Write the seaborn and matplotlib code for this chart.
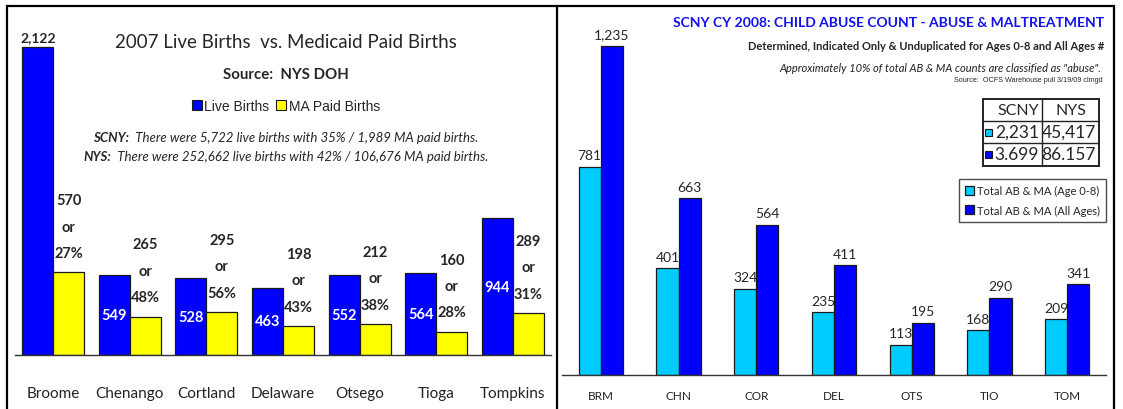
import matplotlib
matplotlib.use("Agg")
import matplotlib.pyplot as plt
from matplotlib.patches import Rectangle
from matplotlib.lines import Line2D
import numpy as np
import pandas as pd
import seaborn as sns

# ------------- data -------------
counties = ["Broome", "Chenango", "Cortland", "Delaware", "Otsego", "Tioga", "Tompkins"]
live_births = [2122, 549, 528, 463, 552, 564, 944]
ma_paid_births = [570, 265, 295, 198, 212, 160, 289]
ma_paid_pct = [27, 48, 56, 43, 38, 28, 31]

county_codes = ["BRM", "CHN", "COR", "DEL", "OTS", "TIO", "TOM"]
abuse_age_0_8 = [781, 401, 324, 235, 113, 168, 209]
abuse_all_ages = [1235, 663, 564, 411, 195, 290, 341]

table_header = ["SCNY", "NYS"]
table_rows = [["2,231", "45,417"], ["3.699", "86.157"]]

# ------------- style -------------
sns.set_style("white")
plt.rcParams["font.family"] = ["Lato", "DejaVu Sans"]
ARIAL = ["Liberation Sans", "DejaVu Sans"]

BLUE = "#0000FF"
YELLOW = "#FFFF00"
CYAN = "#00CCFF"
EDGE = "#1a1a1a"

W, H = 1123, 410
fig = plt.figure(figsize=(W / 100, H / 100), dpi=100)


def fx(px):
    return px / W


def fy(py):
    return 1 - py / H


# ------------- left chart -------------
births = pd.DataFrame({
    "county": counties * 2,
    "count": live_births + ma_paid_births,
    "series": ["Live Births"] * 7 + ["MA Paid Births"] * 7,
})
ax1 = fig.add_axes([fx(15), fy(356), 536 / W, (356 - 8) / H])
sns.barplot(data=births, x="county", y="count", hue="series",
            palette=[BLUE, YELLOW], saturation=1, width=0.81, gap=0,
            edgecolor=EDGE, linewidth=0.9, ax=ax1, legend=False)
ax1.set_ylim(0, 2400)

for i, (patch, n) in enumerate(zip(ax1.containers[0].patches, live_births)):
    cx = patch.get_x() + patch.get_width() / 2
    if i == 0:
        ax1.annotate(f"{n:,}", (cx, n), xytext=(0, 3), textcoords="offset points",
                     ha="center", va="bottom", fontsize=10, weight="bold")
    else:
        ax1.text(cx, n / 2, f"{n:,}", ha="center", va="center",
                 fontsize=10.5, weight="bold", color="white")

for patch, n, pct in zip(ax1.containers[1].patches, ma_paid_births, ma_paid_pct):
    cx = patch.get_x() + patch.get_width() / 2
    ax1.annotate(f"{n}\nor\n{pct}%", (cx, n), xytext=(0, 9), textcoords="offset points",
                 ha="center", va="bottom", fontsize=10.5, weight="bold", linespacing=2.12)

# ------------- right chart -------------
abuse = pd.DataFrame({
    "code": county_codes * 2,
    "count": abuse_age_0_8 + abuse_all_ages,
    "series": ["Total AB & MA (Age 0-8)"] * 7 + ["Total AB & MA (All Ages)"] * 7,
})
ax2 = fig.add_axes([fx(562), fy(376), 544 / W, (376 - 8) / H])
sns.barplot(data=abuse, x="code", y="count", hue="series",
            palette=[CYAN, BLUE], saturation=1, width=0.57, gap=0,
            edgecolor=EDGE, linewidth=0.9, ax=ax2)
ax2.set_ylim(0, 1380)
for cont in ax2.containers:
    ax2.bar_label(cont, labels=[f"{int(v):,}" for v in cont.datavalues],
                  padding=4, fontsize=10)

# ------------- axes cosmetics -------------
for ax, size, pad in [(ax1, 11, 22), (ax2, 8.5, 11)]:
    for s in ["top", "left", "right"]:
        ax.spines[s].set_visible(False)
    ax.spines["bottom"].set_linewidth(1)
    ax.spines["bottom"].set_color("#333333")
    ax.set_yticks([])
    ax.set_xlabel("")
    ax.set_ylabel("")
    ax.set_xticks(np.arange(-0.5, 7, 1), minor=True)
    ax.tick_params(axis="x", which="minor", length=6, width=1, color="#333333", direction="out")
    ax.tick_params(axis="x", which="major", length=0, labelsize=size, pad=pad, labelcolor="#222222")
    ax.set_facecolor("none")

# ------------- left panel texts -------------
cx_left = fx(286)
fig.text(cx_left, fy(42), "2007 Live Births  vs. Medicaid Paid Births",
         ha="center", va="center", fontsize=13.5)
fig.text(cx_left, fy(75), "Source:  NYS DOH", ha="center", va="center",
         fontsize=10.8, weight="bold")

handles = [Rectangle((0, 0), 1, 1, facecolor=BLUE, edgecolor=EDGE, linewidth=0.8),
           Rectangle((0, 0), 1, 1, facecolor=YELLOW, edgecolor=EDGE, linewidth=0.8)]
fig.legend(handles, ["Live Births", "MA Paid Births"], loc="center",
           bbox_to_anchor=(cx_left, fy(107)), ncol=2, frameon=False,
           prop={"family": ARIAL, "size": 10},
           handlelength=0.7, handleheight=0.7, handletextpad=0.2, columnspacing=0.5)

renderer = fig.canvas.get_renderer()
for prefix, rest, ypx in [("SCNY:", "  There were 5,722 live births with 35% / 1,989 MA paid births.", 138),
                          ("NYS:", "  There were 252,662 live births with 42% / 106,676 MA paid births.", 157)]:
    t1 = fig.text(0, fy(ypx), prefix, ha="left", va="center", fontsize=9.5,
                  style="italic", weight="bold")
    t2 = fig.text(0, fy(ypx), rest, ha="left", va="center", fontsize=9.5, style="italic")
    w1 = t1.get_window_extent(renderer).width
    w2 = t2.get_window_extent(renderer).width
    x0 = 286 - (w1 + w2) / 2
    t1.set_x(fx(x0))
    t2.set_x(fx(x0 + w1))

# ------------- right panel texts -------------
fig.text(fx(1104), fy(23), "SCNY CY 2008: CHILD ABUSE COUNT - ABUSE & MALTREATMENT",
         ha="right", va="center", fontsize=10, weight="bold", color="#1010F0")
fig.text(fx(1104), fy(47), "Determined, Indicated Only & Unduplicated for Ages 0-8 and All Ages #",
         ha="right", va="center", fontsize=8, weight="bold")
fig.text(fx(1101), fy(68), 'Approximately 10% of total AB & MA counts are classified as "abuse".',
         ha="right", va="center", fontsize=8, style="italic", color="#222222")
fig.text(fx(1103), fy(81), "Source:  OCFS Warehouse pull 3/19/09 clmgd",
         ha="right", va="center", fontsize=5.2, family=ARIAL)

# small summary table
tx0, tx1, txm = 983, 1099, 1042
ty = [100, 122, 144, 167]
fig.add_artist(Rectangle((fx(tx0), fy(ty[-1])), (tx1 - tx0) / W, (ty[-1] - ty[0]) / H,
                         transform=fig.transFigure, fill=False, edgecolor="#222222", linewidth=1.4))
for yl in ty[1:-1]:
    fig.add_artist(Line2D([fx(tx0), fx(tx1)], [fy(yl), fy(yl)], transform=fig.transFigure,
                          color="#222222", linewidth=1))
fig.add_artist(Line2D([fx(txm), fx(txm)], [fy(ty[0]), fy(ty[-1])], transform=fig.transFigure,
                      color="#222222", linewidth=1))
fig.text(fx(txm - 3), fy((ty[0] + ty[1]) / 2), table_header[0], ha="right", va="center", fontsize=11.5)
fig.text(fx((txm + tx1) / 2), fy((ty[0] + ty[1]) / 2), table_header[1], ha="center", va="center", fontsize=11.5)
for r, (row, col) in enumerate(zip(table_rows, [CYAN, BLUE])):
    ymid = (ty[r + 1] + ty[r + 2]) / 2
    fig.add_artist(Rectangle((fx(985), fy(ymid + 3.5)), 7 / W, 7 / H, transform=fig.transFigure,
                             facecolor=col, edgecolor=EDGE, linewidth=0.8))
    fig.text(fx(txm - 3), fy(ymid), row[0], ha="right", va="center", fontsize=12.5)
    fig.text(fx(tx1 - 3), fy(ymid), row[1], ha="right", va="center", fontsize=12.5)

leg = ax2.legend(loc="upper right", bbox_to_anchor=(fx(1106), fy(180)),
                 bbox_transform=fig.transFigure, fontsize=8, frameon=True,
                 fancybox=False, edgecolor="#222222", handlelength=0.8, handleheight=0.8,
                 handletextpad=0.3, borderpad=0.55, labelspacing=0.75, borderaxespad=0)
leg.get_frame().set_linewidth(1)

# ------------- panel frames -------------
fig.add_artist(Rectangle((fx(7), fy(420)), (1114 - 7) / W, (420 - 7) / H,
                         transform=fig.transFigure, fill=False, edgecolor="black", linewidth=1.6))
fig.add_artist(Line2D([fx(557), fx(557)], [fy(7), fy(420)], transform=fig.transFigure,
                      color="black", linewidth=1.6))

fig.savefig("out.png", dpi=100)
